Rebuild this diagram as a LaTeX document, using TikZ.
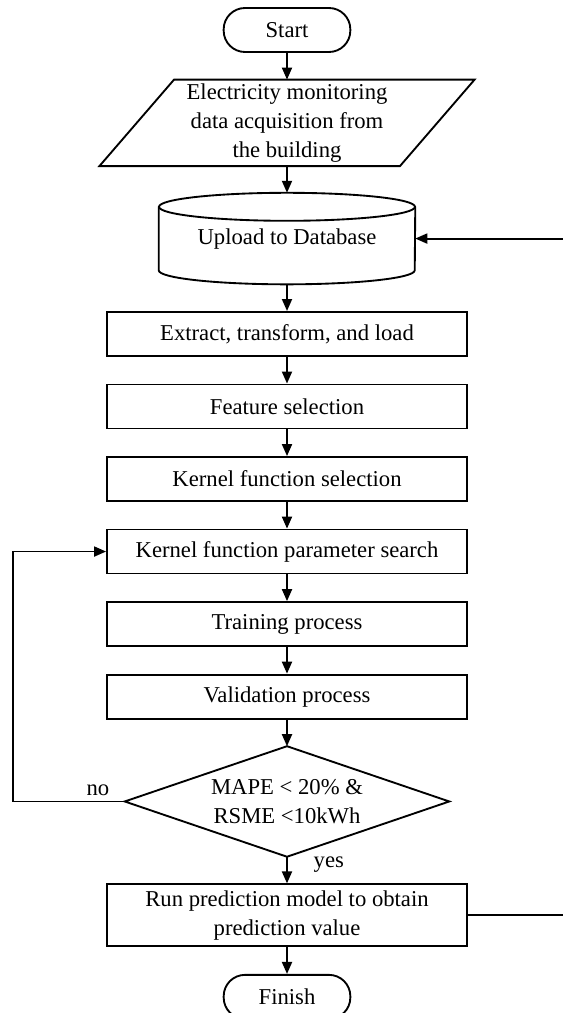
\documentclass[tikz,border=0pt]{standalone}
\usepackage{fontspec}
\setmainfont{Liberation Serif}
\usetikzlibrary{positioning,arrows.meta}

\tikzset{
  flowline/.style={line width=1.4pt},
  flowarrow/.style={flowline, -{Triangle[length=9pt,width=7.5pt]}},
  procbox/.style={draw, flowline, minimum width=270pt, minimum height=33pt, align=center, inner sep=2pt},
  termbox/.style={draw, flowline, rounded corners=16pt, minimum width=95pt, minimum height=33pt},
  iobox/.style={minimum width=225pt, minimum height=64.5pt, align=center, inner sep=1pt},
  dbbox/.style={minimum width=192pt, minimum height=68.25pt},
  decbox/.style={minimum width=243pt, minimum height=82.5pt, align=center, inner sep=0pt},
}

\begin{document}
\begin{tikzpicture}[x=0.75pt, y=-0.75pt, node distance=20pt, font=\fontsize{17}{21.75}\selectfont]
\useasboundingbox (0,0) rectangle (563,1013);

% main column
\node[termbox] (start) at (287,30) {Start};
\node[iobox, below=of start] (acq) {Electricity monitoring\\data acquisition from\\the building};
\node[dbbox, below=of acq] (db) {Upload to Database};
\node[procbox, below=of db] (etl) {Extract, transform, and load};
\node[procbox, below=of etl] (feat) {Feature selection};
\node[procbox, below=of feat] (ksel) {Kernel function selection};
\node[procbox, below=of ksel] (kpar) {Kernel function parameter search};
\node[procbox, below=of kpar] (train) {Training process};
\node[procbox, below=of train] (valid) {Validation process};
\node[decbox, below=of valid] (check) {MAPE < 20\% \&\\RSME <10kWh};
\node[procbox, minimum height=46.5pt, below=of check] (run) {Run prediction model to obtain\\prediction value};
\node[termbox, below=of run] (finish) {Finish};

% input parallelogram
\draw[flowline] ([xshift=28pt]acq.north west) -- ([xshift=28pt]acq.north east)
  -- ([xshift=-28pt]acq.south east) -- ([xshift=-28pt]acq.south west) -- cycle;

% database cylinder
\draw[flowline] ([yshift=-10.5pt]db.north) ellipse [x radius=96pt, y radius=10.5pt];
\draw[flowline] ([yshift=-10.5pt]db.north west) -- ([yshift=10.5pt]db.south west)
  arc [start angle=180, end angle=360, x radius=96pt, y radius=10.5pt] -- ([yshift=-10.5pt]db.north east);

% decision diamond
\draw[flowline] (check.north) -- (check.east) -- (check.south) -- (check.west) -- cycle;

% arrows
\foreach \a/\b in {start/acq, acq/db, db/etl, etl/feat, feat/ksel, ksel/kpar, kpar/train, train/valid, run/finish}
  \draw[flowarrow] (\a) -- (\b);
\draw[flowarrow] (valid.south) -- (check.north);
\draw[flowarrow] (check.south) -- node[pos=0.3, right=16pt] {yes} (run.north);
\draw[flowarrow] (check.west) -- node[above, pos=0.24] {no} ++(-112,0) |- (kpar.west);

% feedback to database
\coordinate (rightedge) at (563,0);
\draw[flowline] (run.east) -- (run.east -| rightedge);
\draw[flowarrow] (db.east -| rightedge) -- (db.east);
\end{tikzpicture}
\end{document}
